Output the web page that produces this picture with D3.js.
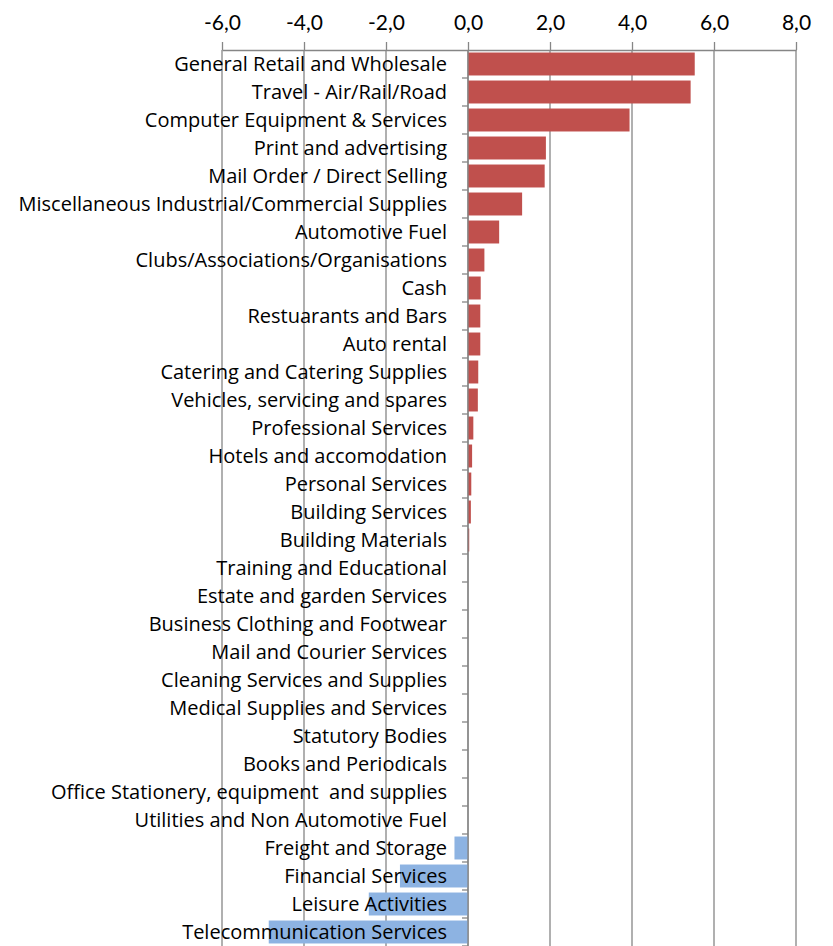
<!DOCTYPE html>
<html>
<head>
<meta charset="utf-8">
<script src="https://cdn.jsdelivr.net/npm/d3@7"></script>
<style>
  body { margin: 0; background: #fff; }
</style>
</head>
<body>
<script>
// categories, top to bottom
var categories = [
    "General Retail and Wholesale",
    "Travel - Air/Rail/Road",
    "Computer Equipment & Services",
    "Print and advertising",
    "Mail Order / Direct Selling",
    "Miscellaneous Industrial/Commercial Supplies",
    "Automotive Fuel",
    "Clubs/Associations/Organisations",
    "Cash",
    "Restuarants and Bars",
    "Auto rental",
    "Catering and Catering Supplies",
    "Vehicles, servicing and spares",
    "Professional Services",
    "Hotels and accomodation",
    "Personal Services",
    "Building Services",
    "Building Materials",
    "Training and Educational",
    "Estate and garden Services",
    "Business Clothing and Footwear",
    "Mail and Courier Services",
    "Cleaning Services and Supplies",
    "Medical Supplies and Services",
    "Statutory Bodies",
    "Books and Periodicals",
    "Office Stationery, equipment  and supplies",
    "Utilities and Non Automotive Fuel",
    "Freight and Storage",
    "Financial Services",
    "Leisure Activities",
    "Telecommunication Services"
];
// one value per category
var values = [5.53, 5.43, 3.94, 1.90, 1.87, 1.32, 0.76, 0.40, 0.31, 0.30,
    0.30, 0.25, 0.24, 0.13, 0.10, 0.08, 0.07, 0.03, 0, 0,
    0, 0, 0, 0, 0, 0, 0, 0, -0.33, -1.66,
    -2.42, -4.86];
// tick values on the top axis
var xTicks = [-6, -4, -2, 0, 2, 4, 6, 8];

let width = 833;
let height = 946;
let plotTop = 50;
let gridColor = "#868686";
let posColor = "#C0504D";
let negColor = "#8DB3E2";
let tickFont = "Lato, 'Open Sans', sans-serif";
let labelFont = "'Open Sans', Lato, sans-serif";

let svg = d3.select("body")
    .append("svg")
    .attr("width", width)
    .attr("height", height)
    .style("display", "block");

let xScale = d3.scaleLinear()
    .domain([-6, 8])
    .range([222, 796]);

let yScale = d3.scaleBand()
    .domain(categories)
    .range([plotTop, height])
    .paddingInner(0.18)
    .paddingOuter(0.09);

let step = yScale.step();
let bandStart = function (d) { return yScale(d) - yScale.paddingOuter() * step; };

//vertical gridlines
svg.append("g")
    .selectAll("line")
    .data(xTicks)
    .enter()
    .append("line")
    .attr("x1", (d) => xScale(d))
    .attr("x2", (d) => xScale(d))
    .attr("y1", plotTop)
    .attr("y2", height)
    .style("stroke", gridColor)
    .style("stroke-width", 1.3);

//bars
svg.append("g")
    .selectAll("rect")
    .data(values)
    .enter()
    .append("rect")
    .attr("x", (d) => xScale(Math.min(0, d)))
    .attr("width", (d) => Math.abs(xScale(d) - xScale(0)))
    .attr("y", (d, i) => yScale(categories[i]))
    .attr("height", yScale.bandwidth())
    .style("fill", (d) => d < 0 ? negColor : posColor);

//top axis
let x_axis = d3.axisTop(xScale)
    .tickValues(xTicks)
    .tickSize(8)
    .tickSizeOuter(0)
    .tickPadding(12)
    .tickFormat((d) => d3.format(".1f")(d).replace(".", ",").replace("−", "-"));

let xg = svg.append("g")
    .attr("transform", "translate(0," + plotTop + ")")
    .call(x_axis);
xg.selectAll("path, line")
    .style("stroke", gridColor)
    .style("stroke-width", 1.3);
xg.selectAll("text")
    .style("font-family", tickFont)
    .style("font-size", "21px")
    .style("fill", "#000");

//category axis at zero
let zx = xScale(0);
svg.append("line")
    .attr("x1", zx).attr("x2", zx)
    .attr("y1", plotTop).attr("y2", height)
    .style("stroke", gridColor)
    .style("stroke-width", 1.3);

svg.append("g")
    .selectAll("line")
    .data(categories)
    .enter()
    .append("line")
    .attr("x1", zx - 6)
    .attr("x2", zx)
    .attr("y1", (d) => bandStart(d) + step)
    .attr("y2", (d) => bandStart(d) + step)
    .style("stroke", gridColor)
    .style("stroke-width", 1.3);

//category labels
svg.append("g")
    .selectAll("text")
    .data(categories)
    .enter()
    .append("text")
    .attr("x", zx - 21)
    .attr("y", (d) => yScale(d) + yScale.bandwidth() / 2)
    .attr("dy", "0.36em")
    .attr("text-anchor", "end")
    .style("font-family", labelFont)
    .style("font-size", "20px")
    .style("white-space", "pre")
    .style("fill", "#000")
    .text((d) => d);
</script>
</body>
</html>
